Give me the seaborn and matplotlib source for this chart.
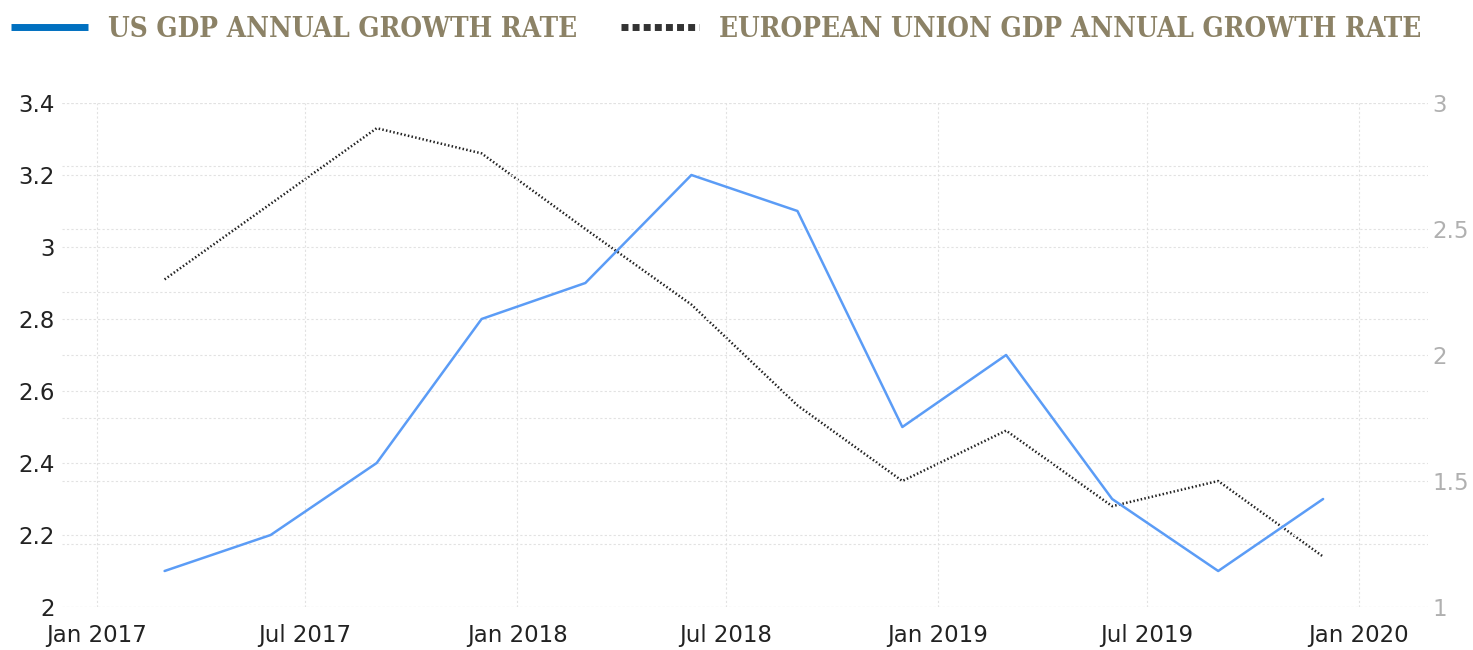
import matplotlib
matplotlib.use("Agg")
import matplotlib.pyplot as plt
import matplotlib.dates as mdates
from matplotlib.lines import Line2D
import seaborn as sns
import pandas as pd
import numpy as np

# quarterly readings
dates = pd.date_range("2017-03-01", "2019-12-01", freq="3MS")
us_gdp = [2.1, 2.2, 2.4, 2.8, 2.9, 3.2, 3.1, 2.5, 2.7, 2.3, 2.1, 2.3]
eu_gdp = [2.3, 2.6, 2.9, 2.8, 2.5, 2.2, 1.8, 1.5, 1.7, 1.4, 1.5, 1.2]

us_label = "US GDP ANNUAL GROWTH RATE"
eu_label = "EUROPEAN UNION GDP ANNUAL GROWTH RATE"

df = pd.DataFrame({"date": dates, "us": us_gdp, "eu": eu_gdp})

sns.set_style("white")
plt.rcParams['font.family'] = ['DejaVu Sans']

fig = plt.figure(figsize=(14.73, 6.5), dpi=100)
ax = fig.add_axes([62 / 1473, 1 - 607 / 650, (1428 - 62) / 1473, (607 - 103) / 650])
ax2 = ax.twinx()
# keep the right-axis grid underneath the left axis lines
ax.set_zorder(ax2.get_zorder() + 1)
ax.patch.set_visible(False)

grid_kw = dict(color="#e2e2e2", linestyle=(0, (2, 2)), linewidth=0.8)

sns.lineplot(data=df, x="date", y="us", ax=ax, color="#5b9cf6", linewidth=1.8, zorder=3)
sns.lineplot(data=df, x="date", y="eu", ax=ax2, color="#222222", linewidth=1.8,
             linestyle=(0, (0.6, 0.9)), zorder=3)

ax.set_ylim(2, 3.4)
ax2.set_ylim(1, 3)
ax.set_xlim(pd.Timestamp("2016-12-02"), pd.Timestamp("2020-03-01"))

ax.set_yticks(np.arange(2, 3.41, 0.2))
ax.set_yticklabels(["2", "2.2", "2.4", "2.6", "2.8", "3", "3.2", "3.4"])
ax2.set_yticks([1, 1.5, 2, 2.5, 3])
ax2.set_yticklabels(["1", "1.5", "2", "2.5", "3"])
ax2.set_yticks(np.arange(1, 3.01, 0.25), minor=True)

ax.xaxis.set_major_locator(mdates.MonthLocator(bymonth=[1, 7]))
ax.xaxis.set_major_formatter(mdates.DateFormatter("%b %Y"))

ax.grid(True, which="major", axis="both", **grid_kw)
ax2.grid(True, which="both", axis="y", **grid_kw)
ax.set_axisbelow(True)
ax2.set_axisbelow(True)

for a in (ax, ax2):
    for s in a.spines.values():
        s.set_visible(False)
    a.set_xlabel("")
    a.set_ylabel("")

ax.tick_params(axis="y", length=0, pad=5, labelsize=16.5, labelcolor="#222222")
ax.tick_params(axis="x", length=0, pad=12, labelsize=16.5, labelcolor="#222222")
ax2.tick_params(axis="y", which="both", length=0, pad=3, labelsize=16.5, labelcolor="#b0b0b0")

# legend across the top
handles = [
    Line2D([], [], color="#0070c0", linewidth=5, solid_capstyle="butt"),
    Line2D([], [], color="#333333", linewidth=5, linestyle=(0, (1, 0.6)), dash_capstyle="butt"),
]
leg = fig.legend(handles, [us_label, eu_label], loc="upper left", ncol=2,
                 bbox_to_anchor=(-0.006, 1.006), frameon=False, handlelength=2.8,
                 handletextpad=0.7, columnspacing=1.6, borderaxespad=0.3,
                 prop=dict(family="DejaVu Serif", weight="bold", size=20, stretch="condensed"))
for t in leg.get_texts():
    t.set_color("#8c8266")

fig.savefig("out.png", dpi=100)
